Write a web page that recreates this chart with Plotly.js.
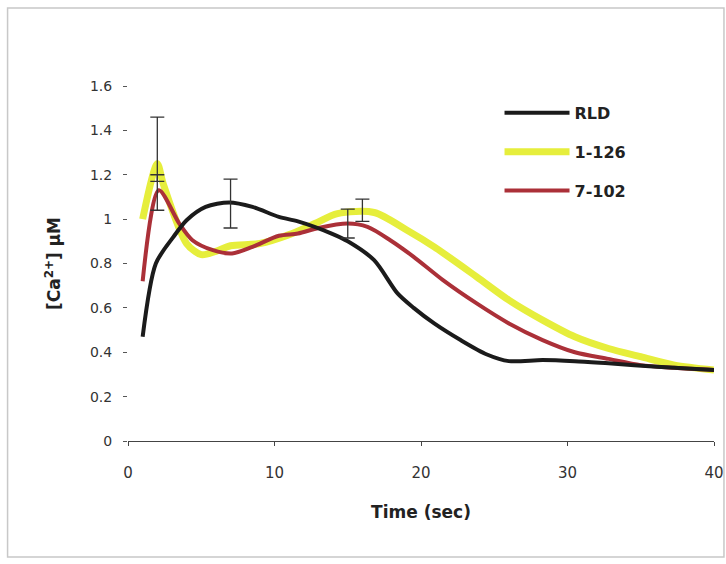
<!DOCTYPE html>
<html>
<head>
<meta charset="utf-8">
<script src="https://cdn.plot.ly/plotly-3.0.1.min.js"></script>
<style>html,body{margin:0;padding:0;background:#fff;}#chart{width:726px;height:564px;}</style>
</head>
<body>
<div id="chart"></div>
<script>
// Series names
var seriesNames = ["RLD", "1-126", "7-102"];

// RLD (black)
var rldX = [1, 1.9, 3.1, 4, 5.3, 6.9, 8.5, 10.3, 11.6, 13.9, 15, 16.8, 18.4, 19.5, 20.9, 22.7, 24.5, 26, 28.3, 30.5, 32.8, 36.1, 40];
var rldY = [0.47, 0.80, 0.92, 0.995, 1.055, 1.075, 1.055, 1.01, 0.99, 0.935, 0.90, 0.815, 0.665, 0.60, 0.53, 0.455, 0.39, 0.36, 0.365, 0.36, 0.35, 0.335, 0.32];

// 1-126 (yellow)
var yelX = [1, 2, 2.4, 4, 5, 6, 7, 9, 11, 12.75, 14.3, 16.8, 19.05, 20.9, 23.8, 26, 28.3, 30.5, 32.8, 35, 37.3, 40];
var yelY = [1.0, 1.25, 1.16, 0.89, 0.84, 0.855, 0.88, 0.89, 0.93, 0.98, 1.025, 1.03, 0.95, 0.875, 0.74, 0.635, 0.545, 0.47, 0.417, 0.38, 0.342, 0.32];

// 7-102 (red)
var redX = [1, 2.1, 3.5, 4.4, 5.8, 7.1, 8.5, 10.3, 11.6, 13, 15, 16.35, 17.9, 19.5, 21.5, 23.8, 26, 28.3, 30.5, 32.8, 35, 37.3, 40];
var redY = [0.72, 1.13, 0.98, 0.905, 0.86, 0.845, 0.875, 0.925, 0.935, 0.96, 0.98, 0.965, 0.905, 0.83, 0.725, 0.62, 0.53, 0.455, 0.40, 0.37, 0.342, 0.33, 0.32];

// Error bars
var errX = [2, 2, 7, 15, 16];
var errMean = [1.25, 1.185, 1.07, 0.98, 1.04];
var errSize = [0.21, 0.015, 0.11, 0.065, 0.05];

// Axis ticks
var xTicks = [0, 10, 20, 30, 40];
var yTicks = [0, 0.2, 0.4, 0.6, 0.8, 1, 1.2, 1.4, 1.6];
var yTickText = ["0", "0.2", "0.4", "0.6", "0.8", "1", "1.2", "1.4", "1.6"];

var fontFam = "DejaVu Sans, Arial, sans-serif";

var traces = [
  {x: yelX, y: yelY, name: seriesNames[1], mode: "lines", legendgroup: "b", legendrank: 2,
   line: {color: "#e6ee3c", width: 7, shape: "spline", smoothing: 0.8}},
  {x: redX, y: redY, name: seriesNames[2], mode: "lines", legendgroup: "c", legendrank: 3,
   line: {color: "#ab3038", width: 4, shape: "spline", smoothing: 0.8}},
  {x: rldX, y: rldY, name: seriesNames[0], mode: "lines", legendgroup: "a", legendrank: 1,
   line: {color: "#1b1b1b", width: 4, shape: "spline", smoothing: 0.8}},
  {x: errX, y: errMean, mode: "markers", showlegend: false, hoverinfo: "skip",
   marker: {size: 1, opacity: 0},
   error_y: {type: "data", array: errSize, symmetric: true, color: "#333", thickness: 1.3, width: 7}}
];

var layout = {
  width: 726, height: 564,
  paper_bgcolor: "#fff", plot_bgcolor: "#fff",
  margin: {l: 128, r: 12, t: 86, b: 123, pad: 0},
  font: {family: fontFam, color: "#333", size: 14},
  showlegend: true,
  legend: {x: 0.634, y: 0.972, xanchor: "left", yanchor: "top", bgcolor: "rgba(0,0,0,0)",
           font: {family: fontFam, size: 16, color: "#222", weight: "bold"},
           itemwidth: 65, traceorder: "grouped", tracegroupgap: 15},
  xaxis: {range: [0, 40], tickvals: xTicks, ticktext: xTicks.map(String),
          showgrid: false, zeroline: false, showline: true, linecolor: "#444", linewidth: 1,
          ticks: "outside", ticklen: 4, tickcolor: "#444", ticklabelstandoff: 14,
          ticklabeloverflow: "allow",
          tickfont: {family: fontFam, size: 15, color: "#333"},
          title: {text: "Time (sec)", font: {family: fontFam, size: 17, color: "#222", weight: "bold"}, standoff: 25}},
  yaxis: {range: [0, 1.6], tickvals: yTicks, ticktext: yTickText,
          showgrid: false, zeroline: false, showline: false,
          ticks: "outside", ticklen: 4, tickcolor: "#555", ticklabelstandoff: 8,
          tickfont: {family: fontFam, size: 14, color: "#333"},
          title: {text: "[Ca<sup>2+</sup>] \u00b5M", font: {family: fontFam, size: 17, color: "#222", weight: "bold"}, standoff: 24}},
  shapes: [
    {type: "rect", xref: "paper", yref: "paper", x0: -0.2055, x1: 1.017, y0: -0.327, y1: 1.2197,
     line: {color: "#c8c8c8", width: 1.5}, fillcolor: "rgba(0,0,0,0)", layer: "below"}
  ]
};

Plotly.newPlot("chart", traces, layout, {displayModeBar: false, staticPlot: true});
</script>
</body>
</html>
